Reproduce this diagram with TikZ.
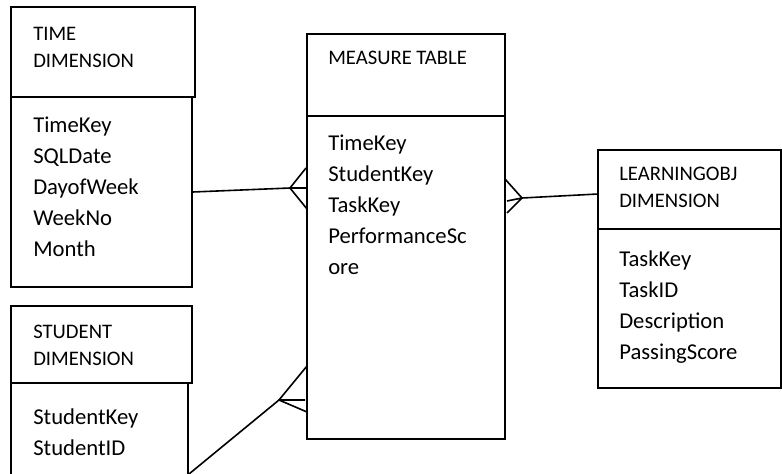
\documentclass[tikz,border=0pt]{standalone}
\usepackage{fontspec}
\setmainfont{Carlito}
\usetikzlibrary{fit}

\begin{document}
\begin{tikzpicture}[x=0.75pt,y=-0.75pt,
  box/.style={draw,line width=1.2pt,inner sep=0pt},
  headtxt/.style={anchor=north west,inner sep=0pt,align=left,font=\fontsize{15.5}{20.25}\selectfont},
  bodytxt/.style={anchor=north west,inner sep=0pt,align=left,font=\fontsize{17}{23.25}\selectfont},
  link/.style={line width=1.2pt}]
\useasboundingbox (0,0) rectangle (782,474);
% tables
\node[box,fit={(11,7) (195,97)}] (timeH) {};
\node[box,fit={(11,97) (192,287)}] (timeB) {};
\node[box,fit={(307,34) (505,116)}] (measH) {};
\node[box,fit={(307,116) (505,439)}] (measB) {};
\node[box,fit={(598,150) (781,229)}] (learnH) {};
\node[box,fit={(598,229) (781,388)}] (learnB) {};
\node[box,fit={(11,306) (192,383)}] (studH) {};
\node[box,fit={(11,383) (188,482)}] (studB) {};
% texts
\node[headtxt] (timeT) at (33,27) {TIME\\DIMENSION};
\node[bodytxt] (timeF) at (33,117) {TimeKey\\SQLDate\\DayofWeek\\WeekNo\\Month};
\node[headtxt] (measT) at (328,51) {MEASURE TABLE};
\node[bodytxt] (measF) at (328,135) {TimeKey\\StudentKey\\TaskKey\\PerformanceSc\\ore};
\node[headtxt] (learnT) at (619,167) {LEARNINGOBJ\\DIMENSION};
\node[bodytxt] (learnF) at (619,250) {TaskKey\\TaskID\\Description\\PassingScore};
\node[headtxt] (studT) at (33,325) {STUDENT\\DIMENSION};
\node[bodytxt] (studF) at (33,408) {StudentKey\\StudentID};
% crow's feet
\coordinate (tmV) at (290,188);
\coordinate (tmA) at (306,168);
\coordinate (tmB) at (307,188);
\coordinate (tmC) at (307,209);
\draw[link] (timeB.east) -- (tmV);
\draw[link] (tmA) -- (tmV) -- (tmC) (tmV) -- (tmB);
\coordinate (lmV) at (522,198);
\coordinate (lmE) at (598,194);
\coordinate (lmA) at (505,179);
\coordinate (lmB) at (507,201);
\coordinate (lmC) at (507,213);
\draw[link] (lmE) -- (lmV);
\draw[link] (lmA) -- (lmV) -- (lmC) (lmV) -- (lmB);
\coordinate (smV) at (279,400);
\coordinate (smE) at (189,474);
\coordinate (smA) at (307,366);
\coordinate (smB) at (305,400);
\coordinate (smC) at (307,412);
\draw[link] (smE) -- (smV);
\draw[link] (smA) -- (smV) -- (smC) (smV) -- (smB);
\end{tikzpicture}
\end{document}
